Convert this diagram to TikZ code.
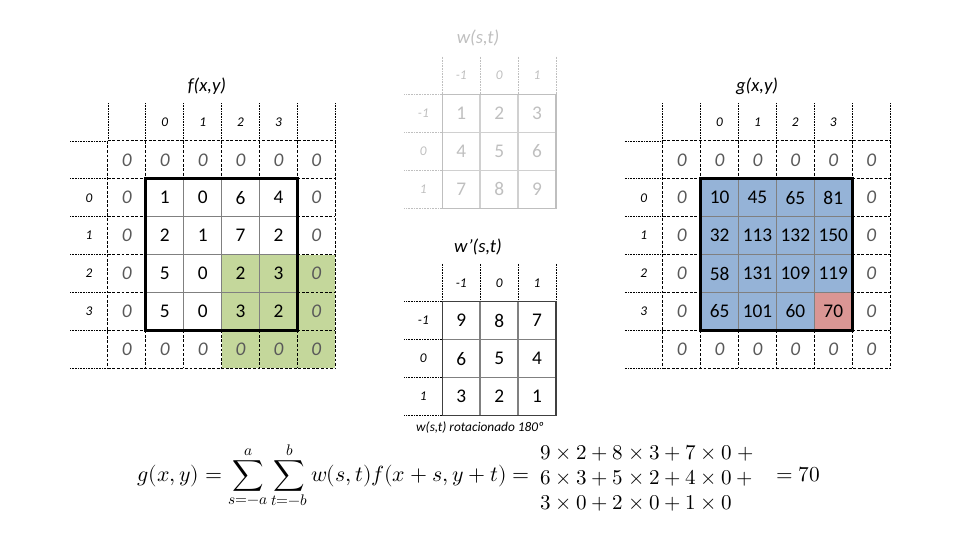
\documentclass[tikz,border=0pt]{standalone}
\usepackage{amsmath}
\usepackage{fontspec}
\usepackage{unicode-math}
\setmainfont{Carlito}
\setmathfont{Latin Modern Math}
\definecolor{padgreen}{RGB}{196, 215, 155}
\definecolor{outblue}{RGB}{149, 179, 215}
\definecolor{hitred}{RGB}{218, 150, 148}
\definecolor{padgray}{RGB}{89, 89, 89}
\definecolor{kergray}{RGB}{191, 191, 191}
\definecolor{kerline}{RGB}{208, 208, 208}
\usetikzlibrary{positioning}

\tikzset{
  datum/.style={font=\fontsize{14.5}{16}\selectfont},
  padzero/.style={font=\fontsize{14.5}{16}\selectfont\itshape, text=padgray},
  idx/.style={font=\fontsize{10}{12}\selectfont\itshape},
  gridtitle/.style={font=\fontsize{14}{16}\selectfont\itshape},
  idxline/.style={line width=0.6pt, dash pattern=on 0.6pt off 0.6pt},
  padline/.style={line width=0.75pt, dash pattern=on 2.2pt off 1.2pt},
  cellline/.style={line width=1.1pt, gray},
  frameline/.style={line width=2.2pt},
  % lines of a 4x4 image padded by one cell, with index row and column
  paddedgrid/.pic={
    \foreach \k in {1,...,7} {
      \draw[idxline] (\k,0) -- (\k,1);
      \draw[idxline] (0,\k) -- (1,\k);
    }
    \draw[padline] (1,1) -- (7,1) (1,7) -- (7,7) (1,1) -- (1,7) (7,1) -- (7,7);
    \foreach \k in {2,...,6}
      \draw[padline] (1,\k) -- (2,\k) (6,\k) -- (7,\k) (\k,1) -- (\k,2) (\k,6) -- (\k,7);
    \foreach \k in {3,4,5}
      \draw[cellline] (2,\k) -- (6,\k) (\k,2) -- (\k,6);
    \draw[frameline] (2,2) rectangle (6,6);
  }
}

\begin{document}
\begin{tikzpicture}[x=0.75pt, y=-0.75pt]
  \useasboundingbox (0,0) rectangle (960,540);

  % f(x,y) with zero padding
  \node[gridtitle] (ftitle) at (207,86) {f(x,y)};
  \begin{scope}[shift={(70,103)}, x=28.425pt, y=-28.425pt]
    \fill[padgreen] (4,4) rectangle (7,7);
    \pic {paddedgrid};
    \foreach \v [count=\i from 2] in {0,1,2,3} {
      \node[idx] (fc\v) at (\i+0.5,0.5) {\v};
      \node[idx] (fr\v) at (0.5,\i+0.5) {\v};
    }
    \foreach \i in {1,...,6} {
      \node[padzero] (fpt\i) at (\i+0.5,1.5) {0};
      \node[padzero] (fpb\i) at (\i+0.5,6.5) {0};
    }
    \foreach \j in {2,...,5} {
      \node[padzero] (fpl\j) at (1.5,\j+0.5) {0};
      \node[padzero] (fpr\j) at (6.5,\j+0.5) {0};
    }
    \foreach \row [count=\j from 2] in {{1,0,6,4},{2,1,7,2},{5,0,2,3},{5,0,3,2}}
      \foreach \v [count=\i from 2] in \row
        \node[datum] (f\i\j) at (\i+0.5,\j+0.5) {\v};
  \end{scope}

  % g(x,y) result
  \node[gridtitle] (gtitle) at (757,86) {g(x,y)};
  \begin{scope}[shift={(624.8,103)}, x=28.425pt, y=-28.425pt]
    \fill[outblue] (2,2) rectangle (6,6);
    \fill[hitred] (5,5) rectangle (6,6);
    \pic {paddedgrid};
    \foreach \v [count=\i from 2] in {0,1,2,3} {
      \node[idx] (gc\v) at (\i+0.5,0.5) {\v};
      \node[idx] (gr\v) at (0.5,\i+0.5) {\v};
    }
    \foreach \i in {1,...,6} {
      \node[padzero] (gpt\i) at (\i+0.5,1.5) {0};
      \node[padzero] (gpb\i) at (\i+0.5,6.5) {0};
    }
    \foreach \j in {2,...,5} {
      \node[padzero] (gpl\j) at (1.5,\j+0.5) {0};
      \node[padzero] (gpr\j) at (6.5,\j+0.5) {0};
    }
    \foreach \row [count=\j from 2] in {{10,45,65,81},{32,113,132,150},{58,131,109,119},{65,101,60,70}}
      \foreach \v [count=\i from 2] in \row
        \node[datum] (g\i\j) at (\i+0.5,\j+0.5) {\v};
  \end{scope}

  % w(s,t) kernel
  \node[gridtitle, text=kergray] (wtitle) at (478,38) {w(s,t)};
  \begin{scope}[shift={(404.4,56.6)}, x=28.425pt, y=-28.425pt]
    \foreach \k in {1,...,4} {
      \draw[idxline, kergray] (\k,0) -- (\k,1);
      \draw[idxline, kergray] (0,\k) -- (1,\k);
    }
    \foreach \k in {2,3}
      \draw[cellline, kerline] (1,\k) -- (4,\k) (\k,1) -- (\k,4);
    \draw[kergray, line width=1pt] (1,1) rectangle (4,4);
    \foreach \v [count=\i from 1] in {-1,0,1} {
      \node[idx, text=kergray] (wc\i) at (\i+0.5,0.5) {\v};
      \node[idx, text=kergray] (wr\i) at (0.5,\i+0.5) {\v};
    }
    \foreach \row [count=\j from 1] in {{1,2,3},{4,5,6},{7,8,9}}
      \foreach \v [count=\i from 1] in \row
        \node[datum, text=kergray] (w\i\j) at (\i+0.5,\j+0.5) {\v};
  \end{scope}

  % w'(s,t) rotated kernel
  \node[gridtitle] (rtitle) at (478,247) {w’(s,t)};
  \begin{scope}[shift={(404.4,263.8)}, x=28.425pt, y=-28.425pt]
    \foreach \k in {1,...,4} {
      \draw[idxline] (\k,0) -- (\k,1);
      \draw[idxline] (0,\k) -- (1,\k);
    }
    \foreach \k in {2,3}
      \draw[cellline] (1,\k) -- (4,\k) (\k,1) -- (\k,4);
    \draw[black!75, line width=1.1pt] (1,1) rectangle (4,4);
    \foreach \v [count=\i from 1] in {-1,0,1} {
      \node[idx] (rc\i) at (\i+0.5,0.5) {\v};
      \node[idx] (rr\i) at (0.5,\i+0.5) {\v};
    }
    \foreach \row [count=\j from 1] in {{9,8,7},{6,5,4},{3,2,1}}
      \foreach \v [count=\i from 1] in \row
        \node[datum] (r\i\j) at (\i+0.5,\j+0.5) {\v};
  \end{scope}
  \node[font=\fontsize{10}{11}\selectfont\itshape] (rcaption) at (480,428) {w(s,t) rotacionado 180º};

  % convolution sum
  \node[font=\fontsize{16.4}{20}\selectfont, anchor=mid east, inner sep=0pt] (conv) at (530,478)
    {$\displaystyle g(x,y)=\sum_{s=-a}^{a}\sum_{t=-b}^{b}w(s,t)f(x+s,y+t)=$};
  \node[font=\fontsize{15.8}{18.75}\selectfont, anchor=west, align=left, inner sep=0pt] (terms) at (540,478)
    {$9\times2+8\times3+7\times0+{}$\\$6\times3+5\times2+4\times0+{}$\\$3\times0+2\times0+1\times0$};
  \node[font=\fontsize{16}{18.75}\selectfont, anchor=mid west, inner sep=0pt] (result) at (776,478) {$=70$};
\end{tikzpicture}
\end{document}
